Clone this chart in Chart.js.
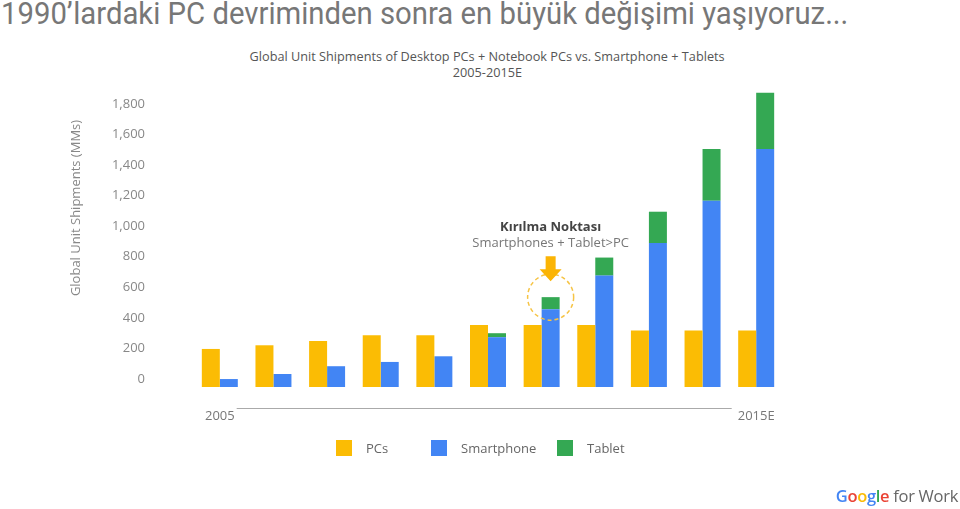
<!DOCTYPE html>
<html>
<head>
<meta charset="utf-8">
<script src="https://cdn.jsdelivr.net/npm/chart.js@4.4.0/dist/chart.umd.min.js"></script>
<style>
    body { margin: 0; background: #fff; width: 960px; height: 509px; overflow: hidden; position: relative; font-family: "Open Sans", sans-serif; }
    #baslik { position: absolute; left: 1px; top: -5px; font-family: Roboto, sans-serif; font-size: 31px; color: #777; white-space: nowrap; transform: scaleX(0.945); transform-origin: left top; }
    #altbaslik { position: absolute; left: 0; width: 975px; top: 48px; text-align: center; font-size: 13px; color: #555; line-height: 16px; }
    #altbaslik span { display: inline-block; transform: scaleX(0.977); }
    #kutu { position: absolute; left: 0; top: 0; width: 960px; height: 509px; }
    #lejant { position: absolute; left: 0; top: 439px; width: 960px; height: 20px; }
    .lej { position: absolute; top: 0; display: flex; align-items: center; font-size: 13px; color: #666; }
    .lej i { display: inline-block; width: 16px; height: 16px; margin-right: 14px; }
    #logo { position: absolute; right: 2px; top: 484px; font-family: "Open Sans", sans-serif; font-size: 16.5px; color: #666; white-space: nowrap; letter-spacing: -0.3px; }
    #logo b { font-weight: 600; }
</style>
</head>
<body>
<div id="baslik">1990’lardaki PC devriminden sonra en büyük değişimi yaşıyoruz...</div>
<div id="altbaslik"><span>Global Unit Shipments of Desktop PCs + Notebook PCs vs. Smartphone + Tablets</span><br><span>2005-2015E</span></div>
<div id="kutu"><canvas id="grafik"></canvas></div>
<div id="lejant"></div>
<div id="logo"><b><span style="color:#4285F4">G</span><span style="color:#EA4335">o</span><span style="color:#FBBC05">o</span><span style="color:#4285F4">g</span><span style="color:#34A853">l</span><span style="color:#EA4335">e</span></b> for Work</div>

<script>
// Veriler (milyon adet)
const yillar = ['2005', '2006', '2007', '2008', '2009', '2010', '2011', '2012', '2013', '2014', '2015E'];
const pcler = [249, 273, 301, 339, 339, 406, 406, 406, 369, 369, 369];
const akilliTelefonlar = [52, 85, 136, 164, 201, 326, 509, 729, 942, 1219, 1558];
const tabletler = [0, 0, 0, 0, 0, 26, 79, 118, 205, 339, 367];

const eksenBasligi = 'Global Unit Shipments (MMs)';
const kirilmaBaslik = 'Kırılma Noktası';
const kirilmaAlt = 'Smartphones + Tablet>PC';
const kirilmaIndeks = 6;

const renkler = {
    pc: '#FBBC04',
    telefon: '#4285F4',
    tablet: '#34A853'
};

// Kırılma noktası oku, kesik çember, x ekseni çizgisi ve y başlığı
const notlarEklentisi = {
    id: 'notlar',
    afterDraw(chart) {
        const ctx = chart.ctx;
        const x = chart.scales.x;
        const y = chart.scales.y;
        const bar = chart.getDatasetMeta(1).data[kirilmaIndeks];
        const cx = bar.x;
        const cy = y.getPixelForValue(akilliTelefonlar[kirilmaIndeks] + tabletler[kirilmaIndeks]);

        ctx.save();
        // kesik çember
        ctx.strokeStyle = '#F6C445';
        ctx.lineWidth = 1.5;
        ctx.setLineDash([4, 3]);
        ctx.beginPath();
        ctx.arc(cx, cy, 23, 0, Math.PI * 2);
        ctx.stroke();
        ctx.setLineDash([]);

        // ok
        ctx.fillStyle = '#FBB404';
        ctx.beginPath();
        ctx.moveTo(cx - 5, cy - 41);
        ctx.lineTo(cx + 5, cy - 41);
        ctx.lineTo(cx + 5, cy - 28);
        ctx.lineTo(cx + 11, cy - 28);
        ctx.lineTo(cx, cy - 16);
        ctx.lineTo(cx - 11, cy - 28);
        ctx.lineTo(cx - 5, cy - 28);
        ctx.closePath();
        ctx.fill();

        // yazılar
        ctx.textAlign = 'center';
        ctx.textBaseline = 'middle';
        ctx.font = 'bold 13px "Open Sans"';
        ctx.fillStyle = '#444';
        ctx.fillText(kirilmaBaslik, cx, cy - 70);
        ctx.font = '13px "Open Sans"';
        ctx.fillStyle = '#777';
        ctx.fillText(kirilmaAlt, cx, cy - 54);

        // x ekseni: ilk ve son yıl arasındaki çizgi
        ctx.font = '13px "Open Sans"';
        const ilk = x.getPixelForTick(0);
        const son = x.getPixelForTick(yillar.length - 1);
        const w0 = ctx.measureText(yillar[0]).width;
        const w1 = ctx.measureText(yillar[yillar.length - 1]).width;
        ctx.strokeStyle = '#aaa';
        ctx.lineWidth = 1;
        ctx.beginPath();
        ctx.moveTo(ilk + w0 / 2 + 2, 408.5);
        ctx.lineTo(son - w1 / 2 - 6, 408.5);
        ctx.stroke();

        // y ekseni başlığı
        ctx.translate(76, 208);
        ctx.rotate(-Math.PI / 2);
        ctx.fillStyle = '#888';
        ctx.fillText(eksenBasligi, 0, 0);
        ctx.restore();
    }
};

const grafik = new Chart(document.getElementById('grafik').getContext('2d'), {
    type: 'bar',
    data: {
        labels: yillar,
        datasets: [
            { label: 'PCs', data: pcler, backgroundColor: renkler.pc, stack: 'pc' },
            { label: 'Smartphone', data: akilliTelefonlar, backgroundColor: renkler.telefon, stack: 'mobil' },
            { label: 'Tablet', data: tabletler, backgroundColor: renkler.tablet, stack: 'mobil' }
        ]
    },
    options: {
        responsive: true,
        maintainAspectRatio: false,
        animation: false,
        categoryPercentage: 0.671,
        barPercentage: 1,
        layout: {
            padding: { top: 89, right: 177, left: 0, bottom: 0 }
        },
        plugins: {
            legend: { display: false },
            tooltip: { enabled: false }
        },
        scales: {
            x: {
                stacked: true,
                grid: { display: false },
                border: { display: false },
                afterFit: (scale) => { scale.height = 122; },
                ticks: {
                    autoSkip: false,
                    maxRotation: 0,
                    padding: 13,
                    color: '#777',
                    font: { family: 'Open Sans', size: 13 },
                    callback: function (value, index) {
                        return (index === 0 || index === yillar.length - 1) ? this.getLabelForValue(value) : '';
                    }
                }
            },
            y: {
                stacked: true,
                min: 0,
                max: 1950,
                grid: { display: false },
                border: { display: false },
                afterFit: (scale) => { scale.width = 193; },
                ticks: {
                    stepSize: 200,
                    includeBounds: false,
                    padding: 40,
                    labelOffset: -8,
                    color: '#888',
                    font: { family: 'Open Sans', size: 13 }
                }
            }
        }
    },
    plugins: [notlarEklentisi]
});

// Lejant
const lejantX = [336, 431, 557];
const lejant = document.getElementById('lejant');
grafik.data.datasets.forEach((ds, i) => {
    const el = document.createElement('div');
    el.className = 'lej';
    el.style.left = lejantX[i] + 'px';
    el.innerHTML = `<i style="background:${ds.backgroundColor}"></i>${ds.label}`;
    lejant.appendChild(el);
});
</script>
</body>
</html>
